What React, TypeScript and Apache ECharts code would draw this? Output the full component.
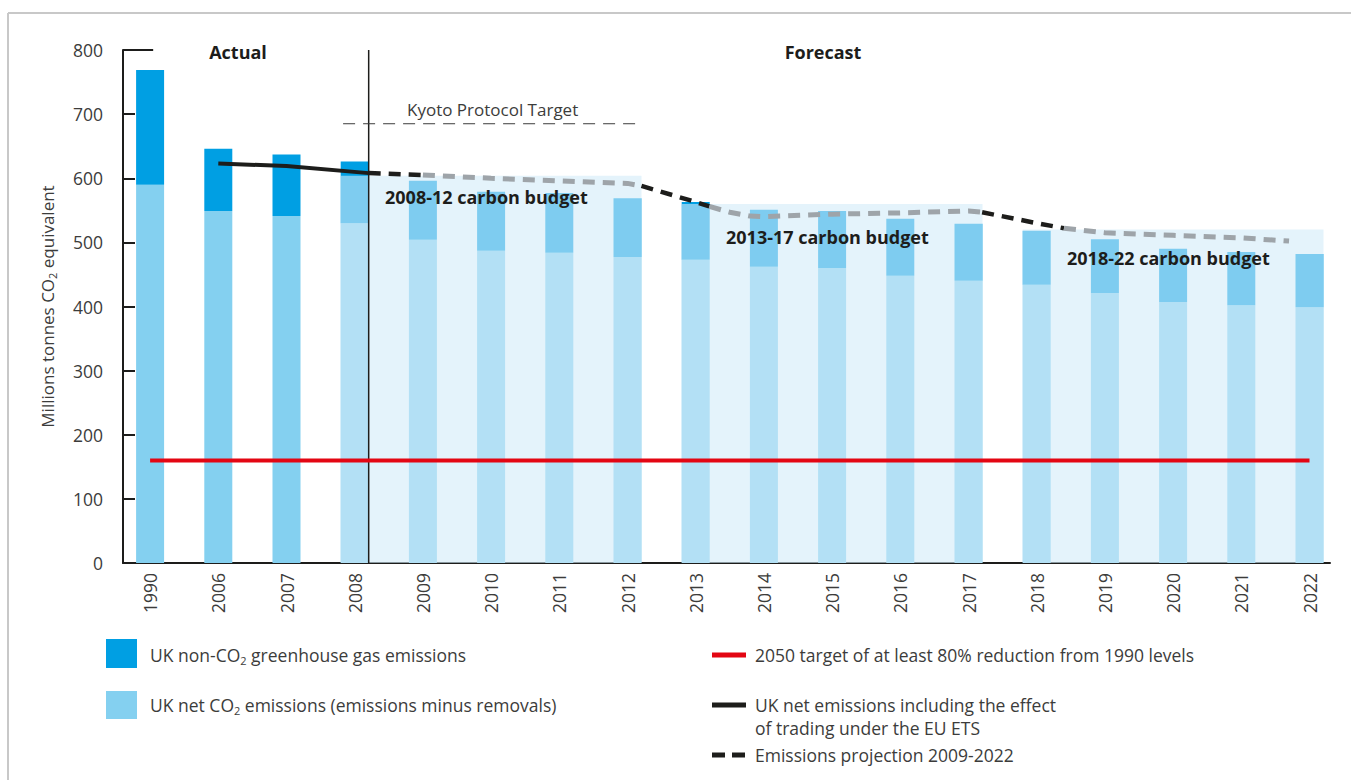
import React, { useEffect, useRef } from 'react';
import * as echarts from 'echarts';

// ---------- data ----------
const years = ['1990', '2006', '2007', '2008', '2009', '2010', '2011', '2012', '2013', '2014', '2015', '2016', '2017', '2018', '2019', '2020', '2021', '2022'];
const netCO2 = [590, 549, 541, 530, 504, 487, 484, 477, 473, 462, 460, 448, 440, 434, 421, 407, 402, 399];
const nonCO2 = [179, 97, 96, 96, 92, 92, 93, 92, 90, 89, 89, 89, 89, 84, 84, 83, 83, 83];

const budgetStart = ['2008', '2013', '2018'];
const budgetEnd = ['2012', '2017', '2022'];
const budgetValue = [604, 560, 520];
const budgetLabels = ['2008-12 carbon budget', '2013-17 carbon budget', '2018-22 carbon budget'];

// x positions are in category-index units (1990 = 0 ... 2022 = 17)
const etsLine = [[1, 623], [2, 619], [3.205, 608]];
const projBlackA = [[3.205, 608], [4, 605]];
const projGreyA = [[4, 605], [5, 600], [6, 596], [7, 592], [7.205, 588]];
const projBlackB = [[7.205, 588], [8, 563], [8.2, 556]];
const projGreyB = [[8.2, 556], [8.5, 547], [8.8, 541], [9, 540], [10, 544], [11, 546], [12, 549], [12.2, 547]];
const projBlackC = [[12.2, 547], [13, 530], [13.4, 522]];
const projGreyC = [[13.4, 522], [14, 515], [15, 511], [16, 507], [16.7, 502]];
const target2050 = [[0, 160], [17, 160]];
const kyotoTarget = [[2.83, 685], [7.13, 685]];
const divider = [[3.205, 0], [3.205, 800]];
const yMax = 800;
const yStep = 100;

const DARK = '#009fe3';
const LIGHT = '#84d0f0';
const RED = '#e30613';
const BLACK = '#1d1d1b';
const GREY = '#9ea4a9';
const TXT = '#3c3c3b';
const FONT = '"Open Sans", "Noto Sans", sans-serif';
const BAR_W = 28;

const lineSeries = (name: string, data: number[][], color: string, width: number, type: any, z = 4) => ({
  name,
  type: 'line',
  xAxisIndex: 1,
  yAxisIndex: 0,
  data,
  showSymbol: false,
  symbol: 'none',
  silent: true,
  z,
  lineStyle: { color, width, type, cap: 'butt' },
});

export default function App() {
  const ref = useRef<HTMLDivElement>(null);

  useEffect(() => {
    if (!ref.current) return;
    const chart = echarts.init(ref.current, undefined, { renderer: 'svg' });

    const budgetData = budgetStart.map((s, i) => [years.indexOf(s), years.indexOf(budgetEnd[i]), budgetValue[i]]);

    const LEG = 17.5;
    const richLegend = {
      a: { fontSize: LEG, fontFamily: FONT, fill: TXT, lineHeight: 22 },
      s: { fontSize: 11, fontFamily: FONT, fill: TXT, lineHeight: 11, verticalAlign: 'bottom' },
    };
    const legText = (x: number, y: number, text: string) => ({
      type: 'text', x, y, style: { text, fontSize: LEG, fontFamily: FONT, fill: TXT, verticalAlign: 'middle' },
    });
    const boldText = (x: number, y: number, text: string, align: string) => ({
      type: 'text', x, y, z: 10,
      style: { text, fontSize: 18, fontWeight: 'bold', fontFamily: FONT, fill: '#1d1d1b', align, verticalAlign: 'middle' },
    });

    const option: any = {
      animation: false,
      backgroundColor: '#ffffff',
      textStyle: { fontFamily: FONT },
      grid: [
        { left: 116, top: 50, width: 1227.6, height: 513 },
        { left: 123, top: 50, width: 1207, height: 513 },
      ],
      xAxis: [
        {
          type: 'category',
          gridIndex: 0,
          data: years,
          axisLine: { show: false },
          axisTick: { show: false },
          axisLabel: { rotate: 90, fontSize: 17.5, color: TXT, margin: 10, fontFamily: FONT },
        },
        { type: 'value', gridIndex: 0, min: -0.5, max: 17.5, show: false, position: 'top' },
        {
          type: 'value',
          gridIndex: 1,
          min: 0,
          max: 1,
          axisLine: { show: true, lineStyle: { color: BLACK, width: 2 } },
          axisTick: { show: false },
          axisLabel: { show: false },
          splitLine: { show: false },
        },
      ],
      yAxis: [
        { type: 'value', gridIndex: 0, min: 0, max: yMax, show: false, splitLine: { show: false } },
        {
          type: 'value',
          gridIndex: 1,
          min: 0,
          max: yMax,
          interval: yStep,
          axisLine: { show: true, lineStyle: { color: BLACK, width: 2 } },
          axisTick: { show: true, inside: true, length: 12, lineStyle: { color: BLACK, width: 2 } },
          axisLabel: { fontSize: 17.5, color: TXT, margin: 20, fontFamily: FONT },
          splitLine: { show: false },
          name: '{a|Millions tonnes CO}{s|2}{a| equivalent}',
          nameLocation: 'middle',
          nameGap: 65,
          nameTextStyle: {
            rich: {
              a: { fontSize: 17, color: TXT, fontFamily: FONT, lineHeight: 22 },
              s: { fontSize: 11, color: TXT, fontFamily: FONT, lineHeight: 11, verticalAlign: 'bottom' },
            },
          },
        },
      ],
      series: [
        {
          name: 'UK net CO2 emissions (emissions minus removals)',
          type: 'bar',
          stack: 'total',
          xAxisIndex: 0,
          yAxisIndex: 0,
          barWidth: BAR_W,
          data: netCO2,
          itemStyle: { color: LIGHT },
          silent: true,
        },
        {
          name: 'UK non-CO2 greenhouse gas emissions',
          type: 'bar',
          stack: 'total',
          xAxisIndex: 0,
          yAxisIndex: 0,
          barWidth: BAR_W,
          data: nonCO2,
          itemStyle: { color: DARK },
          silent: true,
        },
        {
          name: 'carbon budgets',
          type: 'custom',
          xAxisIndex: 0,
          yAxisIndex: 0,
          z: 3,
          silent: true,
          data: budgetData,
          encode: { x: [0, 1], y: 2 },
          renderItem: (params: any, api: any) => {
            const s = api.coord([api.value(0), api.value(2)]);
            const e = api.coord([api.value(1), 0]);
            const half = BAR_W / 2;
            return {
              type: 'rect',
              shape: { x: s[0] - half, y: s[1], width: e[0] - s[0] + 2 * half, height: e[1] - s[1] },
              style: { fill: 'rgba(210,235,248,0.6)' },
            };
          },
        },
        lineSeries('divider', divider, BLACK, 1.5, 'solid'),
        lineSeries('Kyoto Protocol Target', kyotoTarget, '#3c3c3b', 1, [12, 8]),
        lineSeries('UK net emissions including the effect of trading under the EU ETS', etsLine, BLACK, 4, 'solid'),
        lineSeries('projection a', projBlackA, BLACK, 4.5, [12, 8]),
        lineSeries('projection b', projGreyA, GREY, 5, [12, 8]),
        lineSeries('projection c', projBlackB, BLACK, 4.5, [12, 8]),
        lineSeries('projection d', projGreyB, GREY, 5, [12, 8]),
        lineSeries('projection e', projBlackC, BLACK, 4.5, [12, 8]),
        lineSeries('projection f', projGreyC, GREY, 5, [12, 8]),
        lineSeries('2050 target', target2050, RED, 4, 'solid', 5),
        {
          name: 'top tick',
          type: 'line',
          xAxisIndex: 2,
          yAxisIndex: 1,
          data: [[0, yMax], [0.025, yMax]],
          showSymbol: false,
          symbol: 'none',
          silent: true,
          lineStyle: { color: BLACK, width: 2 },
        },
      ],
      graphic: [
        { type: 'line', shape: { x1: 8, y1: 13, x2: 1351, y2: 13 }, style: { stroke: '#c8c8c8', lineWidth: 2 }, silent: true },
        { type: 'line', shape: { x1: 8, y1: 13, x2: 8, y2: 780 }, style: { stroke: '#c8c8c8', lineWidth: 2 }, silent: true },
        boldText(238, 52, 'Actual', 'center'),
        boldText(823, 52, 'Forecast', 'center'),
        { type: 'text', x: 407, y: 109, style: { text: 'Kyoto Protocol Target', fontSize: 17, fontFamily: FONT, fill: TXT, align: 'left', verticalAlign: 'middle' } },
        boldText(385, 197, budgetLabels[0], 'left'),
        boldText(726, 237, budgetLabels[1], 'left'),
        boldText(1067, 258, budgetLabels[2], 'left'),
        // legend
        { type: 'rect', shape: { x: 106, y: 639, width: 31, height: 29 }, style: { fill: DARK } },
        { type: 'text', x: 150, y: 655, style: { text: '{a|UK non-CO}{s|2}{a| greenhouse gas emissions}', rich: richLegend, verticalAlign: 'middle' } },
        { type: 'rect', shape: { x: 106, y: 691, width: 31, height: 28 }, style: { fill: LIGHT } },
        { type: 'text', x: 150, y: 705, style: { text: '{a|UK net CO}{s|2}{a| emissions (emissions minus removals)}', rich: richLegend, verticalAlign: 'middle' } },
        { type: 'rect', shape: { x: 712, y: 652.5, width: 34, height: 5 }, style: { fill: RED } },
        legText(755, 655, '2050 target of at least 80% reduction from 1990 levels'),
        { type: 'rect', shape: { x: 712, y: 702.5, width: 34, height: 5 }, style: { fill: BLACK } },
        legText(755, 705, 'UK net emissions including the effect'),
        legText(755, 728, 'of trading under the EU ETS'),
        { type: 'rect', shape: { x: 712, y: 752.5, width: 13, height: 5 }, style: { fill: BLACK } },
        { type: 'rect', shape: { x: 732, y: 752.5, width: 13, height: 5 }, style: { fill: BLACK } },
        legText(755, 755, 'Emissions projection 2009-2022'),
      ],
    };

    chart.setOption(option);
    return () => chart.dispose();
  }, []);

  return (
    <div
      ref={ref}
      style={{ position: 'fixed', left: 0, top: 0, width: 1351, height: 780, background: '#fff' }}
    />
  );
}
